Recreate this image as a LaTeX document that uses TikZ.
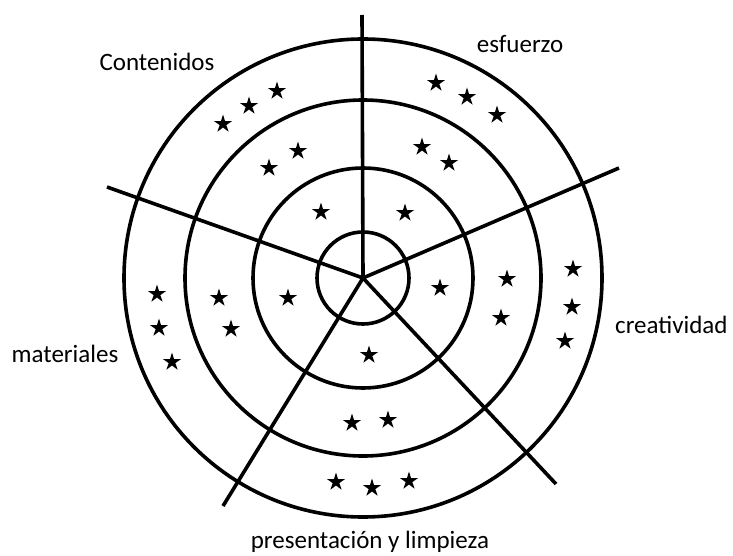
\documentclass[tikz,border=0pt]{standalone}
\usepackage{fontspec}
\setmainfont{Carlito}
\usepackage{tikz}
\usetikzlibrary{shapes.geometric}
\tikzstyle{ring} = [line width=3.6pt]
\tikzstyle{spoke} = [line width=3.6pt]
\tikzstyle{estrella} = [star, star points=5, star point ratio=2.7, fill=black, minimum size=19pt, inner sep=0pt]
\tikzstyle{etiqueta} = [anchor=base, inner sep=0pt, font=\fontsize{25}{30}\selectfont]

\begin{document}
\begin{tikzpicture}[x=1pt, y=-1pt]
\useasboundingbox (0,0) rectangle (733,556);

\coordinate (O) at (363,278);
\draw[ring] (O) circle (46pt);
\draw[ring] (O) circle (110pt);
\draw[ring] (O) circle (178pt);
\draw[ring] (O) circle (239pt);

\coordinate (Esf) at (362,15);
\coordinate (Cre) at (619,168);
\coordinate (Con) at (107,187);
\coordinate (Mat) at (223,506);
\coordinate (Pre) at (556,484);
\draw[spoke] (O) -- (Esf);
\draw[spoke] (O) -- (Cre);
\draw[spoke] (O) -- (Con);
\draw[spoke] (O) -- (Mat);
\draw[spoke] (O) -- (Pre);

\node(L1)[etiqueta] at (157,71) {Contenidos};
\node(L2)[etiqueta] at (520,53) {esfuerzo};
\node(L3)[etiqueta, anchor=base west] at (615,333) {creatividad};
\node(L4)[etiqueta] at (65,362) {materiales};
\node(L5)[etiqueta] at (370,548) {presentación y limpieza};

\foreach \x/\y [count=\i] in {223/124, 249/106, 277/91, 269/168, 298/151, 321/212,
  436/83, 467/97, 497/115, 422/147, 449/163, 405/213,
  573/269, 572/307, 565/341, 507/279, 501/318, 440/288,
  336/482, 372/488, 409/481, 352/423, 388/420, 369/355,
  157/294, 159/328, 172/362, 219/298, 231/329, 288/298}
  \node(s\i)[estrella] at (\x,\y) {};

\end{tikzpicture}
\end{document}
